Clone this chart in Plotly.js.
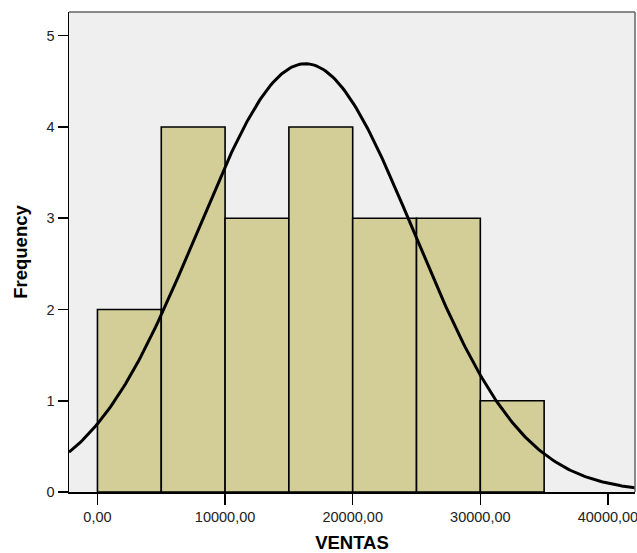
<!DOCTYPE html>
<html>
<head>
<meta charset="utf-8">
<script src="https://cdn.plot.ly/plotly-3.0.1.min.js"></script>
<style>html,body{margin:0;padding:0;background:#fff;overflow:hidden;}#chart{width:637px;height:553px;}</style>
</head>
<body>
<div id="chart"></div>
<script>
// Histogram bins (VENTAS) and frequencies
const binStarts = [0, 5000, 10000, 15000, 20000, 25000, 30000];
const binWidth = 5000;
const frequencies = [2, 4, 3, 4, 3, 3, 1];
// Fitted normal curve parameters
const fitMean = 16300;
const fitStdDev = 8500;
// Axis ticks
const xTickVals = [0, 10000, 20000, 30000, 40000];
const xTickText = ["0,00", "10000,00", "20000,00", "30000,00", "40000,00"];
const yTickVals = [0, 1, 2, 3, 4, 5];

const N = frequencies.reduce((a, b) => a + b, 0);
const binMids = binStarts.map(s => s + binWidth / 2);

const xMin = -2230, xMax = 42120;
const curveX = [], curveY = [];
for (let i = 0; i <= 300; i++) {
  const x = xMin + (xMax - xMin) * i / 300;
  const z = (x - fitMean) / fitStdDev;
  curveX.push(x);
  curveY.push(N * binWidth / (fitStdDev * Math.sqrt(2 * Math.PI)) * Math.exp(-0.5 * z * z));
}

const data = [
  {
    type: 'bar', x: binMids, y: frequencies, width: binWidth,
    marker: {color: '#d3ce97', line: {color: '#000', width: 1.6}},
    hoverinfo: 'skip'
  },
  {
    type: 'scatter', mode: 'lines', x: curveX, y: curveY,
    line: {color: '#000', width: 3}, hoverinfo: 'skip'
  }
];

const font = {family: 'Liberation Sans, Arial, sans-serif', color: '#000'};
const layout = {
  width: 637, height: 553,
  margin: {l: 69, r: 2, t: 12, b: 61, pad: 0},
  paper_bgcolor: '#ffffff',
  plot_bgcolor: '#efefef',
  showlegend: false,
  font: font,
  bargap: 0,
  xaxis: {
    range: [xMin, xMax], tickvals: xTickVals, ticktext: xTickText,
    ticks: 'outside', ticklen: 11, tickwidth: 1.5, tickcolor: '#000',
    ticklabeloverflow: 'allow',
    showgrid: false, zeroline: false,
    showline: true, linecolor: '#000', linewidth: 1.5,
    tickfont: {family: font.family, size: 14.5, color: '#222'},
    title: {text: 'VENTAS', font: {family: font.family, size: 18.5, color: '#000', weight: 'bold'}, standoff: 12}
  },
  yaxis: {
    range: [0, 5.26], tickvals: yTickVals,
    ticks: 'outside', ticklen: 10, tickwidth: 1.5, tickcolor: '#000',
    showgrid: false, zeroline: false,
    showline: true, linecolor: '#000', linewidth: 1.5,
    tickfont: {family: font.family, size: 14.5, color: '#222'},
    title: {text: 'Frequency', font: {family: font.family, size: 18.5, color: '#000', weight: 'bold'}, standoff: 14}
  },
  shapes: [
    {type: 'line', xref: 'paper', yref: 'paper', x0: 0, x1: 1, y0: 1, y1: 1, line: {color: '#666', width: 1.5}},
    {type: 'line', xref: 'paper', yref: 'paper', x0: 1, x1: 1, y0: 0, y1: 1, line: {color: '#666', width: 1.5}}
  ]
};

Plotly.newPlot('chart', data, layout, {displayModeBar: false, staticPlot: true});
</script>
</body>
</html>
